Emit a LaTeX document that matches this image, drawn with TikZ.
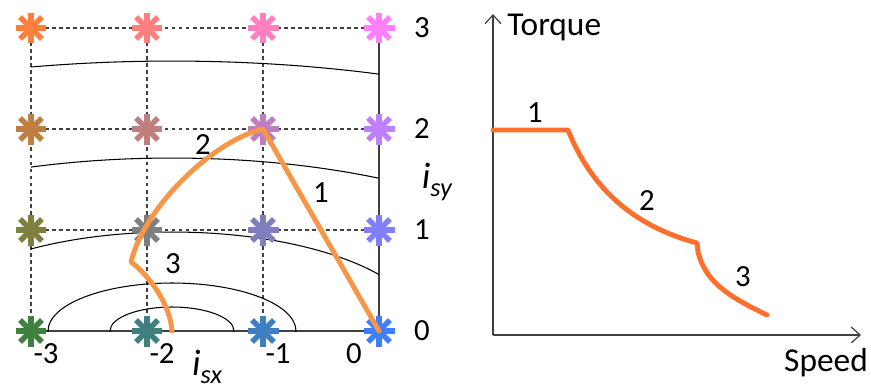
\documentclass[tikz,border=0pt]{standalone}
\usepackage{fontspec}
\setmainfont{Carlito}
\usetikzlibrary{arrows.meta,calc}
\definecolor{figorange}{RGB}{247,150,70}
\definecolor{figtorque}{RGB}{255,110,45}
\definecolor{figaxis}{RGB}{64,64,64}
\newcommand{\starR}{0.31cm}
\tikzset{
  gridln/.style ={figaxis,line width=0.6pt,dash pattern=on 2.2pt off 1.8pt},
  axln/.style   ={figaxis,line width=0.7pt},
  ellln/.style  ={black,line width=0.6pt},
  starln/.style ={line width=3.2pt},
  trajln/.style ={line width=2.8pt,line join=round,line cap=round},
  axarr/.style  ={axln,-{Straight Barb[length=5pt,width=9pt]}},
  numlab/.style ={inner sep=0pt,font=\fontsize{17.5}{20}\selectfont},
  ttllab/.style ={inner sep=0pt,font=\fontsize{19}{22}\selectfont},
}
\newcommand{\gstar}[2]{%
  \foreach \a in {0,45,90,135}{\draw[starln,#2] ($(#1)+(\a:\starR)$) -- ($(#1)+(\a+180:\starR)$);}}
\newcommand{\isub}[2]{{\fontsize{21}{24}\selectfont\itshape #1\raisebox{-0.45ex}{\fontsize{15}{18}\selectfont #2}}}

\begin{document}
\begin{tikzpicture}[x=0.02cm,y=-0.02cm]
  \useasboundingbox (0,0) rectangle (871,389);
  % current plane: grid points
  \foreach \i in {0,...,3}{
    \foreach \j in {0,...,3}{ \coordinate (g\i\j) at ({31+116*\i},{331-101*\j}); } }
  \foreach \j in {1,2,3}{ \draw[gridln] (g0\j) -- (g3\j); }
  \foreach \i in {0,1,2}{ \draw[gridln] (g\i3) -- (g\i0); }
  \draw[axln] (g33) -- (g30) -- (g00);
  % ellipses
  \begin{scope}
    \clip (g03) rectangle (g30);
    \foreach \b/\a in {0.48/1.24,0.96/2.48,1.98/5.04,3.46/8.82,5.40/13.44}{
      \draw[ellln] (172,331) ellipse [x radius=\a cm, y radius=\b cm]; }
  \end{scope}
  % stars
  \foreach \i in {0,...,3}{
    \foreach \j in {0,...,3}{
      \pgfmathtruncatemacro{\rr}{63+64*\j}
      \pgfmathtruncatemacro{\bb}{63+64*\i}
      \definecolor{starcol}{RGB}{\rr,127,\bb}
      \gstar{g\i\j}{starcol} } }
  % trajectory
  \draw[trajln,figorange] (g30) -- (g22)
    .. controls (215,140) and (145,205) .. (131,262) -- (135,265)
    .. controls (152,280) and (170,305) .. (172,331);
  \node[numlab] (seg1) at (321,193) {1};
  \node[numlab] (seg2) at (203,145) {2};
  \node[numlab] (seg3) at (173,264) {3};
  \foreach \j in {0,...,3}{ \node[numlab] (yt\j) at (422,{331-101*\j}) {\j}; }
  \node[numlab] (xt0) at (46,354) {-3};
  \node[numlab] (xt1) at (162,354) {-2};
  \node[numlab] (xt2) at (278,354) {-1};
  \node[numlab] (xt3) at (354,354) {0};
  \node[inner sep=0pt] (isy) at (437,182) {\isub{i}{sy}};
  \node[inner sep=0pt] (isx) at (207,367) {\isub{i}{sx}};
  % torque--speed plane
  \coordinate (O) at (493,335);
  \coordinate (ytop) at (493,14);
  \coordinate (xend) at (861,335);
  \draw[axarr] (O) -- (ytop);
  \draw[axarr] (O) -- (xend);
  \node[ttllab,anchor=west] (torq) at (507,27) {Torque};
  \node[ttllab] (spd) at (826,363) {Speed};
  \draw[trajln,figtorque] (493,130) -- (568,130)
    .. controls (590,185) and (630,225) .. (697,243) -- (698,252)
    .. controls (705,280) and (725,295) .. (767,315);
  \node[numlab] (ts1) at (535,113) {1};
  \node[numlab] (ts2) at (647,201) {2};
  \node[numlab] (ts3) at (743,277) {3};
\end{tikzpicture}
\end{document}
